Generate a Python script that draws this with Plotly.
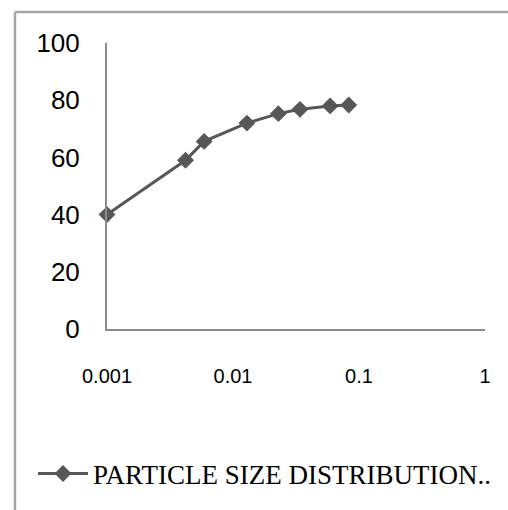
import plotly.graph_objects as go

# Data
particle_size = [0.001, 0.0042, 0.0059, 0.0129, 0.0229, 0.034, 0.059, 0.083]
percent_finer = [40, 59, 65.6, 72, 75.3, 76.8, 78, 78.3]
series_name = "PARTICLE SIZE DISTRIBUTION.."
x_tick_vals = [0.001, 0.01, 0.1, 1]
x_tick_text = ["0.001", "0.01", "0.1", "1"]
y_tick_vals = [0, 20, 40, 60, 80, 100]

W, H = 508, 510
L, R, T, B = 107, 23, 43, 181
pw, ph = W - L - R, H - T - B

def px(x):
    return (x - L) / pw

def py(y):
    return (H - B - y) / ph

fig = go.Figure()
fig.add_trace(go.Scatter(
    x=particle_size, y=percent_finer, name=series_name,
    mode="lines+markers",
    line=dict(color="#575757", width=3),
    marker=dict(symbol="diamond", size=13, color="#575757"),
    cliponaxis=False,
    showlegend=True,
))

fig.update_layout(
    width=W, height=H,
    margin=dict(l=L, r=R, t=T, b=B),
    paper_bgcolor="white", plot_bgcolor="white",
    showlegend=True,
    legend=dict(
        x=px(33), y=py(474), xanchor="left", yanchor="middle",
        font=dict(family="Liberation Serif", size=27, color="black"),
        bgcolor="rgba(0,0,0,0)", itemwidth=50,
    ),
    xaxis=dict(
        type="log", range=[-3, 0], autorange=False,
        tickvals=x_tick_vals, ticktext=x_tick_text,
        showgrid=False, zeroline=False,
        showline=True, linecolor="#8c8c8c", linewidth=2,
        ticks="", ticklabelstandoff=28,
        tickfont=dict(family="Liberation Sans", size=20, color="black"),
    ),
    yaxis=dict(
        range=[0, 100], autorange=False,
        tickvals=y_tick_vals,
        showgrid=False, zeroline=False,
        showline=True, linecolor="#8c8c8c", linewidth=2,
        ticks="", ticklabelstandoff=20,
        tickfont=dict(family="Liberation Sans", size=26, color="black"),
    ),
    shapes=[
        dict(type="line", xref="paper", yref="paper",
             x0=px(15), x1=px(15), y0=py(12), y1=py(H + 5),
             line=dict(color="#a6a6a6", width=2.5)),
        dict(type="line", xref="paper", yref="paper",
             x0=px(15), x1=px(W + 5), y0=py(12), y1=py(12),
             line=dict(color="#a6a6a6", width=2.5)),
    ],
)

fig.write_html(
    "out.html",
    config={"displayModeBar": False},
    post_script="document.body.style.margin='0px';document.body.style.overflow='hidden';",
)
